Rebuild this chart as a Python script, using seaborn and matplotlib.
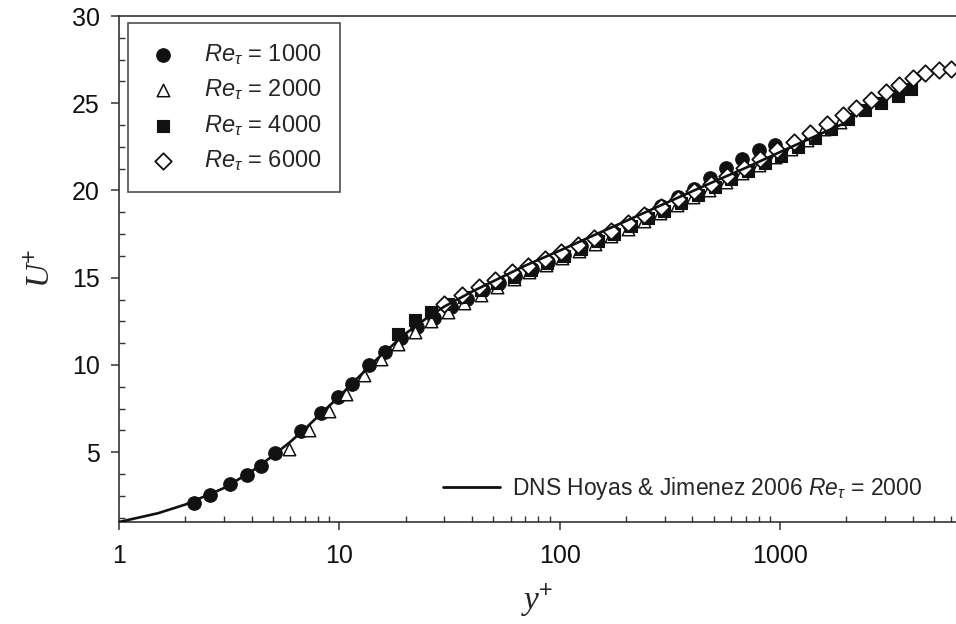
import numpy as np
import pandas as pd
import matplotlib
matplotlib.use("Agg")
import matplotlib.pyplot as plt
import seaborn as sns
from matplotlib.ticker import FixedLocator, MultipleLocator, LogLocator, FuncFormatter, NullFormatter
from matplotlib.lines import Line2D

# ---------------- data ----------------
yp_1000 = [2.2, 2.6, 3.2, 3.8, 4.4, 5.1, 6.7, 8.3, 9.9, 11.4, 13.7, 16.2, 19.0, 22.5, 27, 32, 38, 45,
           53, 63, 75, 89, 105, 125, 148, 175, 207, 245, 290, 343, 406, 480, 570, 675, 800, 950]
up_1000 = [2.1, 2.55, 3.15, 3.7, 4.2, 4.95, 6.2, 7.25, 8.15, 8.9, 10.0, 10.75, 11.55, 12.15, 12.7, 13.3,
           13.8, 14.3, 14.7, 15.1, 15.5, 15.9, 16.3, 16.8, 17.2, 17.6, 18.1, 18.6, 19.1, 19.6, 20.1,
           20.7, 21.3, 21.8, 22.3, 22.6]

yp_2000 = [5.9, 7.3, 9.0, 10.7, 13.0, 15.5, 18.5, 22, 26, 31, 37, 44, 52, 62, 73, 87, 103, 122, 145,
           172, 204, 242, 287, 340, 404, 479, 568, 674, 800, 948, 1125, 1334, 1582, 1876]
up_2000 = [5.2, 6.3, 7.35, 8.35, 9.45, 10.35, 11.2, 11.9, 12.5, 13.05, 13.55, 14.0, 14.45, 14.9, 15.3,
           15.75, 16.15, 16.55, 16.95, 17.4, 17.8, 18.25, 18.7, 19.15, 19.6, 20.05, 20.5, 21.0, 21.45,
           21.9, 22.4, 22.9, 23.5, 23.95]

yp_4000 = [18.5, 22, 26, 31, 37, 44, 52, 62, 74, 88, 105, 125, 149, 177, 211, 251, 299, 356, 424, 505,
           601, 716, 852, 1014, 1207, 1437, 1710, 2036, 2424, 2886, 3435, 3920]
up_4000 = [11.8, 12.55, 13.05, 13.5, 13.9, 14.3, 14.7, 15.05, 15.45, 15.85, 16.25, 16.65, 17.1, 17.5,
           17.95, 18.4, 18.85, 19.3, 19.75, 20.2, 20.65, 21.1, 21.55, 22.0, 22.5, 23.0, 23.5, 24.1,
           24.6, 25.0, 25.4, 25.8]

yp_6000 = [30, 36, 43, 51, 61, 72, 86, 102, 121, 144, 171, 204, 242, 288, 343, 408, 485, 577, 686, 816,
           970, 1154, 1372, 1632, 1941, 2208, 2580, 3020, 3476, 4000, 4580, 5250, 6000]
up_6000 = [13.5, 14.0, 14.45, 14.85, 15.3, 15.65, 16.05, 16.45, 16.85, 17.25, 17.7, 18.15, 18.6, 19.05,
           19.5, 19.95, 20.4, 20.85, 21.3, 21.8, 22.3, 22.8, 23.3, 23.8, 24.3, 24.75, 25.2, 25.65,
           26.05, 26.45, 26.75, 26.9, 26.95]

yp_dns = [1, 1.5, 2, 3, 4, 5, 6, 7, 8, 10, 12, 15, 20, 25, 30, 40, 50, 70, 100, 150, 200, 300, 500,
          700, 1000, 1500, 2000]
up_dns = [1.0, 1.5, 2.0, 2.95, 3.9, 4.8, 5.6, 6.35, 7.05, 8.2, 9.2, 10.4, 11.8, 12.7, 13.35, 14.2,
          14.8, 15.7, 16.55, 17.55, 18.25, 19.25, 20.5, 21.3, 22.2, 23.2, 23.9]

series_labels = [r"$Re_{\tau}$ = 1000", r"$Re_{\tau}$ = 2000", r"$Re_{\tau}$ = 4000", r"$Re_{\tau}$ = 6000"]
dns_label = r"DNS Hoyas & Jimenez 2006 $Re_{\tau}$ = 2000"
xticks = [1, 10, 100, 1000]
yticks = [5, 10, 15, 20, 25, 30]

# ---------------- style ----------------
sns.set_theme(style="ticks")
plt.rcParams["font.family"] = ["Liberation Sans", "DejaVu Sans"]
plt.rcParams["mathtext.fontset"] = "custom"
plt.rcParams["mathtext.rm"] = "Liberation Sans"
plt.rcParams["mathtext.it"] = "Liberation Sans:italic"
plt.rcParams["mathtext.cal"] = "Liberation Serif:italic"

fig = plt.figure(figsize=(9.56, 6.24), dpi=100)
ax = fig.add_axes([119 / 956, 102 / 624, (956 - 119) / 956, (522 - 16) / 624])

k = "#111111"
sns.scatterplot(x=yp_1000, y=up_1000, marker="o", s=95, color=k, edgecolor=k, linewidth=0.8,
                label=series_labels[0], ax=ax, zorder=3)
sns.scatterplot(x=yp_2000, y=up_2000, marker="^", s=80, facecolor="white", edgecolor=k, linewidth=1.1,
                label=series_labels[1], ax=ax, zorder=3)
sns.scatterplot(x=yp_4000, y=up_4000, marker="s", s=75, color=k, edgecolor=k, linewidth=0.8,
                label=series_labels[2], ax=ax, zorder=3)
sns.scatterplot(x=yp_6000, y=up_6000, marker="D", s=70, facecolor="white", edgecolor=k, linewidth=1.3,
                label=series_labels[3], ax=ax, zorder=3)
sns.lineplot(x=yp_dns, y=up_dns, color=k, linewidth=1.9, ax=ax, zorder=4, estimator=None, sort=False)

ax.set_xscale("log")
ax.set_xlim(1, 6300)
ax.set_ylim(1, 30)

ax.xaxis.set_major_locator(FixedLocator(xticks))
ax.xaxis.set_major_formatter(FuncFormatter(lambda v, p: "%g" % v))
ax.xaxis.set_minor_locator(LogLocator(base=10, subs=np.arange(2, 10), numticks=20))
ax.xaxis.set_minor_formatter(NullFormatter())
ax.yaxis.set_major_locator(FixedLocator(yticks))
ax.yaxis.set_minor_locator(MultipleLocator(1.25))

ax.tick_params(axis="both", which="major", direction="out", length=6, width=1.1, labelsize=18,
               color="#333333", labelcolor="#111111", pad=8)
ax.tick_params(axis="both", which="minor", direction="in", length=4, width=1.0, color="#333333")
ax.tick_params(axis="x", which="major", pad=10)

for side in ["left", "bottom", "top"]:
    ax.spines[side].set_linewidth(1.2)
    ax.spines[side].set_color("#333333")
ax.spines["right"].set_visible(False)

ax.set_xlabel(r"$\mathcal{y}^{+}$", fontsize=24, labelpad=10)
ax.set_ylabel(r"$\mathcal{U}^{+}$", fontsize=24, labelpad=10)

handles, labels = ax.get_legend_handles_labels()
leg1 = ax.legend(handles[:4], labels[:4], loc="upper left", bbox_to_anchor=(9 / 837, 1 - 7 / 506),
                 borderaxespad=0, frameon=True, fancybox=False, edgecolor="#222222", fontsize=17,
                 labelspacing=0.45, handletextpad=1.0, borderpad=0.8, handlelength=1.4)
leg1.get_frame().set_linewidth(1.2)
ax.add_artist(leg1)

dns_handle = Line2D([], [], color=k, linewidth=2.0)
leg2 = ax.legend([dns_handle], [dns_label], loc="lower right", bbox_to_anchor=(0.970, 0.022),
                 borderaxespad=0, frameon=False, fontsize=16.5, handlelength=2.5, handletextpad=0.5)

fig.savefig("out.png", dpi=100)
